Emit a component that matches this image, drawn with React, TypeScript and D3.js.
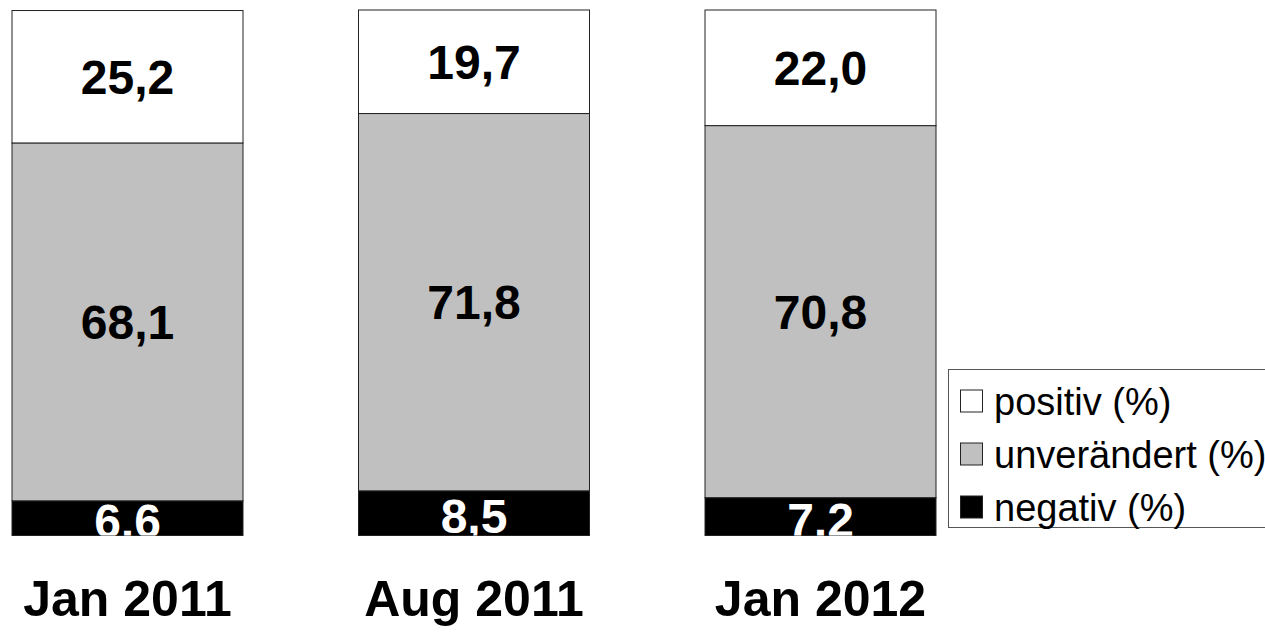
import React from "react";
import * as d3 from "d3";

const categories = ["Jan 2011", "Aug 2011", "Jan 2012"];
const negativ = [6.6, 8.5, 7.2];
const unveraendert = [68.1, 71.8, 70.8];
const positiv = [25.2, 19.7, 22.0];
const seriesNames = ["positiv (%)", "unverändert (%)", "negativ (%)"];
const seriesColors = ["#ffffff", "#c0c0c0", "#000000"];
const labelColors = ["#000000", "#000000", "#ffffff"];

const W = 1265;
const H = 641;
const FONT = "'Liberation Sans', Arial, Helvetica, sans-serif";

const fmt = (v: number) => v.toFixed(1).replace(".", ",");

export default function App() {
  const x = d3
    .scaleBand<string>()
    .domain(categories)
    .range([-45.75, 993.75])
    .paddingInner(1 / 3)
    .paddingOuter(1 / 6);
  const y = d3.scaleLinear().domain([0, 100]).range([535.5, 10]);

  const rows = categories.map((c, i) => ({
    cat: c,
    negativ: negativ[i],
    unveraendert: unveraendert[i],
    positiv: positiv[i],
  }));
  const keys = ["negativ", "unveraendert", "positiv"];
  const stack = d3.stack<any>().keys(keys)(rows);
  const styleIdx = [2, 1, 0];

  const legendBaselines = [415, 468, 521];

  return (
    <svg
      width={W}
      height={H}
      style={{ position: "absolute", left: 0, top: 0, background: "#fff" }}
      fontFamily={FONT}
    >
      <defs>
        <clipPath id="plotclip">
          <rect x={0} y={0} width={W} height={y(0)} />
        </clipPath>
      </defs>
      {stack.map((layer, li) => (
        <g key={layer.key}>
          {layer.map((d, i) => (
            <rect
              key={i}
              x={x(categories[i])!}
              y={y(d[1])}
              width={x.bandwidth()}
              height={y(d[0]) - y(d[1])}
              fill={seriesColors[styleIdx[li]]}
              stroke="#222"
              strokeWidth={1}
            />
          ))}
        </g>
      ))}
      <g clipPath="url(#plotclip)">
        {stack.map((layer, li) =>
          layer.map((d, i) => (
            <text
              key={layer.key + i}
              x={x(categories[i])! + x.bandwidth() / 2}
              y={(y(d[0]) + y(d[1])) / 2 + (li === 0 ? 3 : 0)}
              dy="0.358em"
              textAnchor="middle"
              fontSize={48}
              fontWeight="bold"
              fill={labelColors[styleIdx[li]]}
            >
              {fmt(d[1] - d[0])}
            </text>
          ))
        )}
      </g>
      {categories.map((c) => (
        <text
          key={c}
          x={x(c)! + x.bandwidth() / 2}
          y={616}
          textAnchor="middle"
          fontSize={50}
          fontWeight="bold"
          fill="#000"
        >
          {c}
        </text>
      ))}
      <g>
        <rect
          x={948.5}
          y={369.5}
          width={330}
          height={158}
          fill="#fff"
          stroke="#555"
          strokeWidth={1}
        />
        {seriesNames.map((n, i) => (
          <g key={n}>
            <rect
              x={960.5}
              y={legendBaselines[i] - 25}
              width={22}
              height={22}
              fill={seriesColors[i]}
              stroke="#222"
              strokeWidth={1}
            />
            <text x={994} y={legendBaselines[i]} fontSize={38} fill="#000">
              {n}
            </text>
          </g>
        ))}
      </g>
    </svg>
  );
}
